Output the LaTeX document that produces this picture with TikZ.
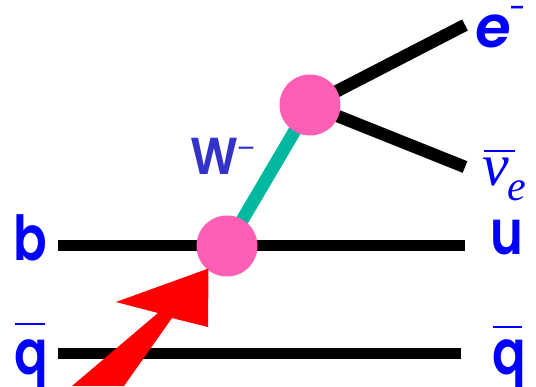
\documentclass[tikz,border=0pt]{standalone}
\usepackage{fontspec}
\setmainfont{Poppins}[BoldFont={Poppins SemiBold}]
\newfontfamily\labfont{Poppins SemiBold}[FakeStretch=0.8]
\newfontfamily\efont{Poppins SemiBold}[FakeStretch=1.0,FakeSlant=0.12]
\newfontfamily\wfont{Poppins SemiBold}[FakeStretch=0.9]
\newfontfamily\nufont{Liberation Serif}
\definecolor{vpink}{HTML}{FF5EB5}
\definecolor{vteal}{HTML}{00B8A0}
\definecolor{lblue}{HTML}{0000FF}
\definecolor{wblue}{HTML}{3333CC}
\tikzset{
  x=1pt,y=-1pt,
  fermion/.style={line width=11pt,black},
  diagfermion/.style={line width=12.5pt,black},
  boson/.style={line width=13pt,vteal},
  vertexdot/.style={circle,fill=vpink,draw=none,minimum size=61pt,inner sep=0pt},
  lab/.style={text=lblue,inner sep=0pt,font=\fontsize{62}{62}\selectfont\labfont},
  barline/.style={lblue,line width=1.2pt},
}
\begin{document}
\begin{tikzpicture}
\useasboundingbox (0,0) rectangle (536,386);
\clip (0,0) rectangle (536,386);
\coordinate (bL) at (58,245);
\coordinate (bR) at (465,245);
\coordinate (qL) at (58,353);
\coordinate (qR) at (461,353);
\coordinate (eEnd) at (465,25);
\coordinate (nuEnd) at (465,167);
\coordinate (c1) at (227,246);
\coordinate (c2) at (310,105);
\draw[fermion] (bL) -- (bR);
\draw[fermion] (qL) -- (qR);
\draw[diagfermion] (c2) -- (eEnd);
\draw[diagfermion] (c2) -- (nuEnd);
\draw[boson] (c1) -- (c2);
\node[vertexdot] (v1) at (c1) {};
\node[vertexdot] (v2) at (c2) {};
\fill[red] (208.5,268.5) -- (116,302) -- (158,313) -- (72,386) -- (124,386) -- (172,318) -- (208,327) -- cycle;
\node[lab,anchor=base] (b) at (30,260) {b};
\node[lab,anchor=base] (q1) at (31,374) {q};
\node[lab,anchor=base] (u) at (507,254) {u};
\node[lab,anchor=base] (q2) at (509,374) {q};
\node[text=lblue,inner sep=0pt,anchor=base,font=\fontsize{58}{58}\selectfont\efont] (e) at (491,47) {e};
\node[text=lblue,inner sep=0pt,anchor=base,font=\fontsize{22}{22}\selectfont\bfseries] (em) at (517,15.5) {\smash{–}};
\node[text=wblue,inner sep=0pt,anchor=base,font=\fontsize{52}{52}\selectfont\wfont] (W) at (214,174) {W};
\node[text=wblue,inner sep=0pt,anchor=base,font=\fontsize{28}{28}\selectfont] (wm) at (246,158) {\smash{–}};
\node[text=lblue,inner sep=0pt,anchor=base,font=\fontsize{60}{60}\selectfont\nufont\itshape] (nu) at (496,185) {ν};
\node[text=lblue,inner sep=0pt,anchor=base,font=\fontsize{42}{42}\selectfont\nufont\itshape] (nue) at (517,200) {e};
\draw[barline] (15,324) -- (45,324);
\draw[barline] (493,327) -- (522,327);
\draw[barline] (484,151) -- (515,151);
\end{tikzpicture}
\end{document}
